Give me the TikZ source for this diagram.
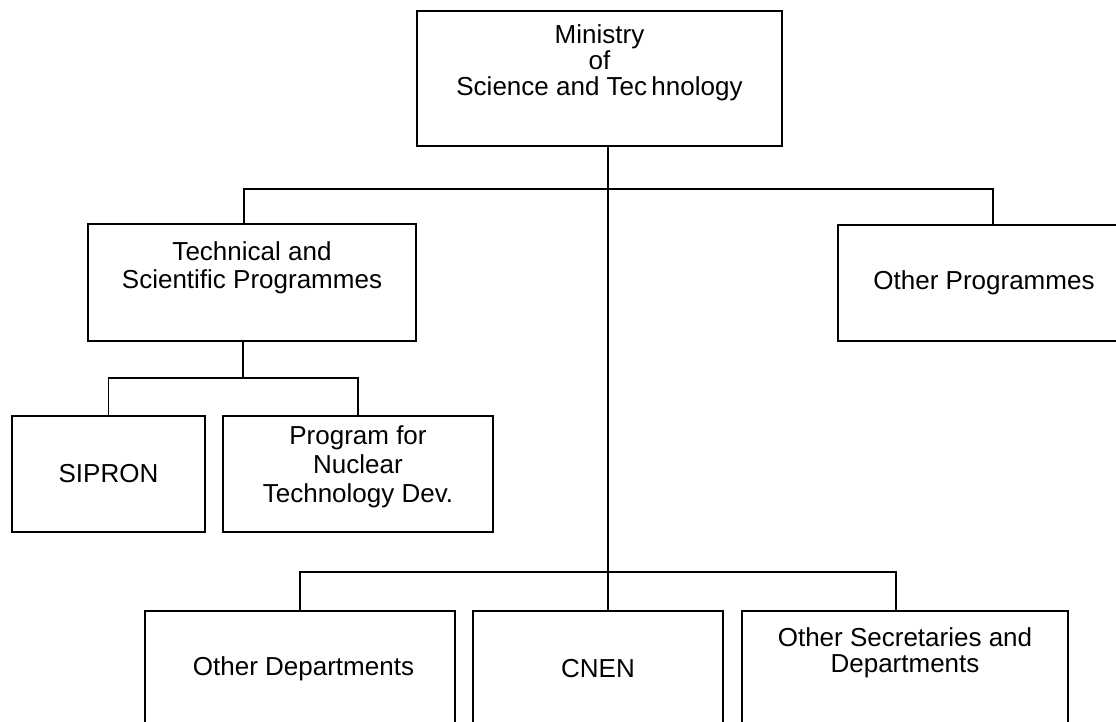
\documentclass[tikz,border=0pt]{standalone}
\usepackage{fontspec}
\setmainfont{Liberation Sans}
\usetikzlibrary{positioning}
\begin{document}
\begin{tikzpicture}[x=0.02cm,y=-0.02cm]

	%DEFINICIONES
	\tikzstyle{every node}=[font=\fontsize{14.8}{15}\selectfont]
	\tikzstyle{caja} = [draw, rectangle, line width=0.3mm, align=center, minimum height=2.32cm]
	\tikzstyle{texto} = [align=center, inner sep=0pt, outer sep=0pt]
	\tikzstyle{linea} = [line width=0.3mm]

	\useasboundingbox (0,0) rectangle (1116,722);

	%BLOQUES
	\draw(599.5,78.5) node[caja, minimum width=7.3cm, minimum height=2.7cm](min){};
	\draw(252,282.5) node[caja, minimum width=6.56cm, minimum height=2.34cm](tec){};
	\draw(984,283) node[caja, minimum width=5.84cm](otr){Other Programmes};
	\draw(108.5,474) node[caja, minimum width=3.86cm](sip){SIPRON};
	\draw(358,474) node[caja, minimum width=5.4cm](prog){};
	\draw(300,668.5) node[caja, minimum width=6.2cm, minimum height=2.3cm](odep){\hspace{0.14cm}Other Departments};
	\draw(598,668.5) node[caja, minimum width=5cm, minimum height=2.3cm](cnen){CNEN};
	\draw(905,668.5) node[caja, minimum width=6.52cm, minimum height=2.3cm](osec){};

	%TEXTOS
	\node[texto, below=0.28cm of min.north](tmin){Ministry\\of\\Science and Tec\,hnology};
	\node[texto, below=0.36cm of tec.north, font=\fontsize{14.8}{16}\selectfont](ttec){Technical and\\Scientific Programmes};
	\node[texto, below=0.2cm of prog.north, font=\fontsize{14.8}{16.5}\selectfont](tprog){Program for\\Nuclear\\Technology Dev.};
	\node[texto, below=0.34cm of osec.north](tosec){Other Secretaries and\\Departments};

	%LINEAS
	\coordinate (n1) at (608,189);
	\coordinate (n2) at (244,189);
	\coordinate (n3) at (993,189);
	\coordinate (n4) at (243,378);
	\coordinate (n5) at (608,572);
	\coordinate (n6) at (896,572);

	\draw[linea] (min.south -| n1) -- (cnen.north -| n1);
	\draw[linea] (tec.north -| n2) -- (n2) -- (n3) -- (otr.north -| n3);
	\draw[linea] (tec.south -| n4) -- (n4);
	\draw[linea] (sip.north) |- (n4) -| (prog.north);
	\draw[linea] (odep.north) |- (n6) -- (osec.north -| n6);
\end{tikzpicture}
\end{document}
